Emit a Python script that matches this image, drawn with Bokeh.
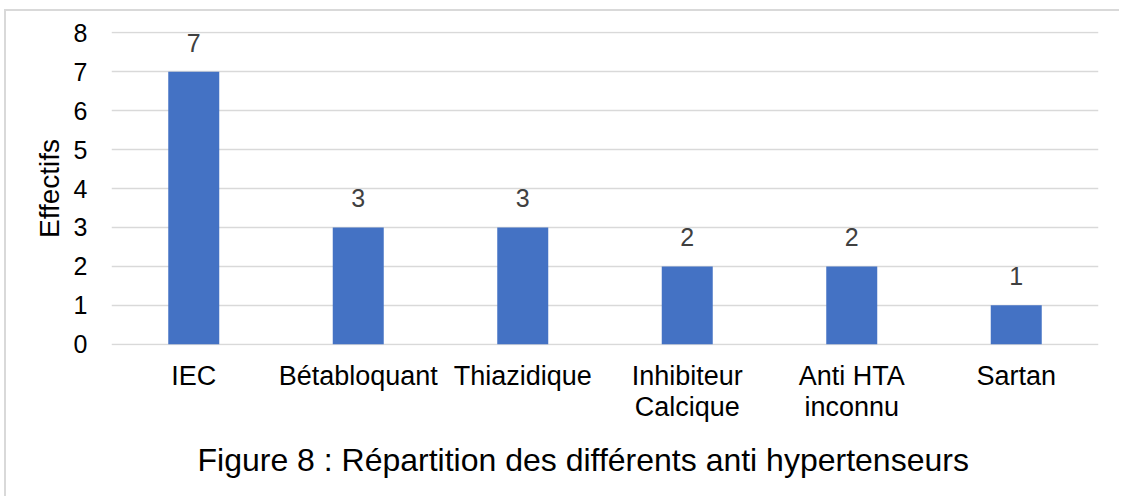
from bokeh.plotting import figure
from bokeh.models import ColumnDataSource, Range1d, FactorRange, Title
from bokeh.core.properties import value
from bokeh.embed import file_html
from bokeh.resources import INLINE

categories = ["IEC", "Bétabloquant", "Thiazidique", "Inhibiteur\nCalcique", "Anti HTA\ninconnu", "Sartan"]
counts = [7, 3, 3, 2, 2, 1]
y_ticks = [0, 1, 2, 3, 4, 5, 6, 7, 8]
title_text = "Figure 8 : Répartition des différents anti hypertenseurs"
y_label = "Effectifs"

FONT = "Liberation Sans"

src = ColumnDataSource(dict(cat=categories, val=counts, lab=[str(v) for v in counts]))

p = figure(
    width=1115, height=487,
    x_range=FactorRange(factors=categories, range_padding=0),
    y_range=Range1d(-0.03, 8.03),
    output_backend="svg", toolbar_location=None,
    min_border_left=105, min_border_right=23, min_border_top=20, min_border_bottom=153,
)
p.styles = {"border-left": "2px solid #d9d9d9", "border-top": "2px solid #d9d9d9",
            "margin-left": "4px", "margin-top": "9px"}
p.outline_line_color = None
p.background_fill_color = "white"
p.border_fill_color = "white"

p.vbar(x="cat", top="val", width=0.31, source=src, fill_color="#4472C4", line_color=None)
p.text(x="cat", y="val", text="lab", source=src, text_align="center", text_baseline="alphabetic",
       y_offset=-29, text_font=value(FONT), text_font_size="25px", text_color="#404040")

p.xgrid.grid_line_color = None
p.ygrid.grid_line_color = "#d9d9d9"
p.ygrid.grid_line_width = 1.6
p.yaxis.ticker = y_ticks

for ax in (p.xaxis[0], p.yaxis[0]):
    ax.axis_line_color = None
    ax.major_tick_line_color = None
    ax.minor_tick_line_color = None
    ax.major_label_text_font = FONT
    ax.major_label_text_color = "black"

p.yaxis.major_label_text_font_size = "25px"
p.yaxis.major_label_standoff = 18
p.yaxis.axis_label = y_label
p.yaxis.axis_label_text_font = FONT
p.yaxis.axis_label_text_font_size = "28px"
p.yaxis.axis_label_text_font_style = "normal"
p.yaxis.axis_label_text_color = "black"
p.yaxis.axis_label_standoff = 6

p.xaxis.major_label_text_font_size = "27px"
p.xaxis.major_label_standoff = 9
p.xaxis.major_label_text_line_height = 1.05

t = Title(text=title_text, align="left", offset=86, text_font=FONT, text_font_size="32px",
          text_font_style="normal", text_color="black", standoff=29)
p.add_layout(t, "below")

open("out.html", "w").write(file_html(p, INLINE))
